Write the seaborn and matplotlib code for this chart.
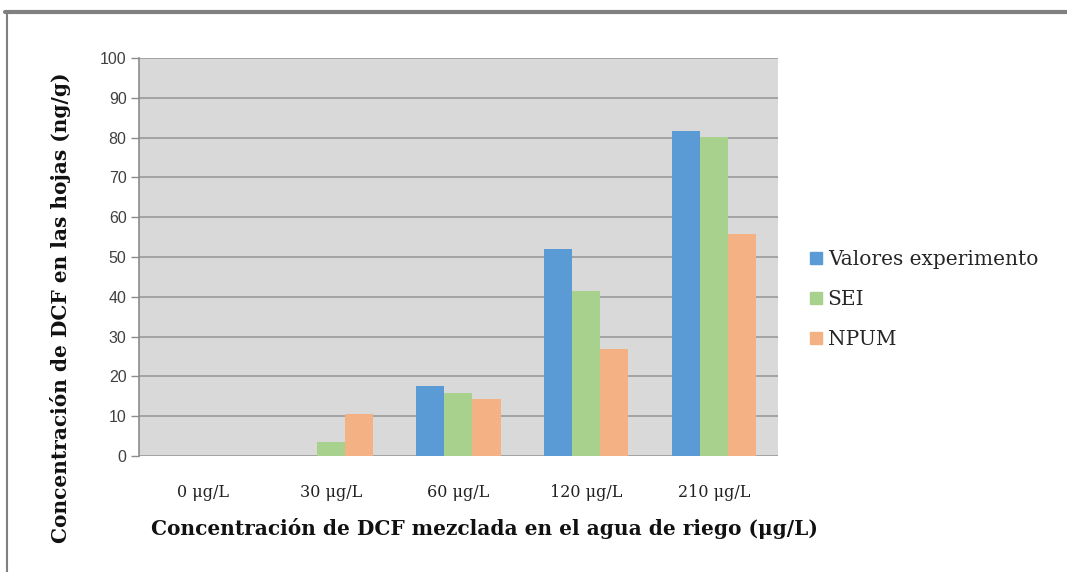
import matplotlib
matplotlib.use("Agg")
import matplotlib.pyplot as plt
from matplotlib.lines import Line2D
import seaborn as sns
import pandas as pd

categories = ["0 μg/L", "30 μg/L", "60 μg/L", "120 μg/L", "210 μg/L"]
series_names = ["Valores experimento", "SEI", "NPUM"]
valores_experimento = [0, 0, 17.7, 52.0, 81.7]
sei = [0, 3.4, 15.8, 41.5, 80.2]
npum = [0, 10.6, 14.4, 27.0, 55.8]
y_ticks = [0, 10, 20, 30, 40, 50, 60, 70, 80, 90, 100]

colors = ["#5b9bd5", "#a9d18e", "#f4b183"]

df = pd.DataFrame({
    "categoria": categories * 3,
    "serie": [s for s in series_names for _ in categories],
    "valor": valores_experimento + sei + npum,
})

sns.set_theme(style="white")
plt.rcParams["font.family"] = ["DejaVu Serif"]

fig = plt.figure(figsize=(10.67, 5.72), dpi=100)
ax = fig.add_axes([0.1303, 0.2028, 0.729 - 0.1303, 0.8986 - 0.2028])
ax.set_facecolor("#d9d9d9")

sns.barplot(data=df, x="categoria", y="valor", hue="serie", order=categories,
            hue_order=series_names, palette=colors, width=0.66, gap=0,
            saturation=1, linewidth=0, errorbar=None, ax=ax, legend=False)

ax.set_ylim(0, 100)
ax.set_xlim(-0.5, len(categories) - 0.5)
ax.set_yticks(y_ticks)
ax.set_yticklabels([str(t) for t in y_ticks], family="Liberation Sans",
                   fontsize=11.5, color="#404040")
ax.set_xticks(range(len(categories)))
ax.set_xticklabels(categories, family="DejaVu Serif", fontsize=11.5, color="#222222")
ax.tick_params(axis="x", length=0, pad=20)
ax.tick_params(axis="y", length=6, width=1, color="#8c8c8c", direction="out", left=True, pad=3)

ax.yaxis.grid(True, color="#9a9a9a", linewidth=1.2)
ax.set_axisbelow(True)
for side in ["top", "right", "bottom"]:
    ax.spines[side].set_visible(False)
ax.spines["left"].set_color("#8c8c8c")
ax.spines["left"].set_linewidth(1.2)

ax.set_xlabel("Concentración de DCF mezclada en el agua de riego (μg/L)",
              fontsize=14.5, fontweight="bold", color="#111111")
ax.set_ylabel("Concentración de DCF en las hojas (ng/g)",
              fontsize=14.5, fontweight="bold", color="#111111")
ax.xaxis.set_label_coords(0.541, -0.155)
ax.yaxis.set_label_coords(-0.107, 0.372)

handles = [Line2D([0], [0], marker="s", linestyle="none", markersize=9,
                  markerfacecolor=c, markeredgecolor=c) for c in colors]
fig.legend(handles, series_names, loc="upper left", bbox_to_anchor=(0.738, 0.594),
           frameon=False, labelspacing=1.04, handletextpad=0.1,
           handlelength=1.0, prop={"family": "DejaVu Serif", "size": 14.5})

# frame around the chart
fig.add_artist(Line2D([5 / 1067, 1.0], [1 - 12 / 572, 1 - 12 / 572],
                      transform=fig.transFigure, color="#808080", linewidth=3))
fig.add_artist(Line2D([7 / 1067, 7 / 1067], [0, 1 - 12 / 572],
                      transform=fig.transFigure, color="#808080", linewidth=1.5))

fig.savefig("out.png", dpi=100)
